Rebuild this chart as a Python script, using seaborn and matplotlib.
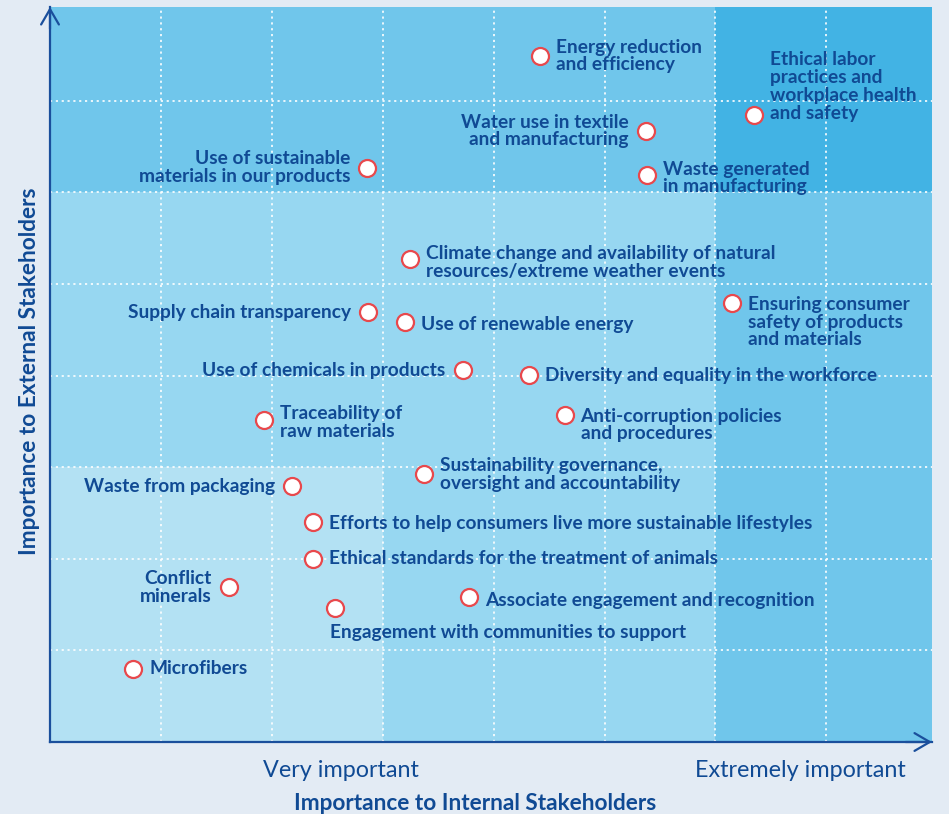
import numpy as np
import pandas as pd
import matplotlib
matplotlib.use("Agg")
import matplotlib.pyplot as plt
from matplotlib.colors import ListedColormap
from matplotlib.ticker import FixedLocator
import seaborn as sns

# ---------------- data ----------------
topics = [
    "Energy reduction\nand efficiency",
    "Ethical labor\npractices and\nworkplace health\nand safety",
    "Water use in textile\nand manufacturing",
    "Use of sustainable\nmaterials in our products",
    "Waste generated\nin manufacturing",
    "Climate change and availability of natural\nresources/extreme weather events",
    "Ensuring consumer\nsafety of products\nand materials",
    "Supply chain transparency",
    "Use of renewable energy",
    "Use of chemicals in products",
    "Diversity and equality in the workforce",
    "Anti-corruption policies\nand procedures",
    "Traceability of\nraw materials",
    "Sustainability governance,\noversight and accountability",
    "Waste from packaging",
    "Efforts to help consumers live more sustainable lifestyles",
    "Ethical standards for the treatment of animals",
    "Conflict\nminerals",
    "Associate engagement and recognition",
    "Engagement with communities to support",
    "Microfibers",
]
internal = [4.42, 6.35, 5.37, 2.86, 5.38, 3.25, 6.15, 2.87, 3.20, 3.72, 4.32,
            4.64, 1.93, 3.37, 2.18, 2.37, 2.37, 1.61, 3.78, 2.57, 0.75]
external = [7.49, 6.85, 6.67, 6.27, 6.19, 5.27, 4.79, 4.69, 4.59, 4.06, 4.01,
            3.57, 3.52, 2.93, 2.79, 2.40, 2.00, 1.69, 1.58, 1.46, 0.80]

x_tick_labels = ["Very important", "Extremely important"]
x_tick_pos = [2.62, 6.77]
x_title = "Importance to Internal Stakeholders"
y_title = "Importance to External Stakeholders"

# zone boundaries and levels (rows bottom->top, cols left->right)
x_breaks = [0, 3, 6, 7.953]
y_breaks = [0, 3, 6, 8.024]
zone_levels = [[0, 1, 2],
               [1, 1, 2],
               [2, 2, 3]]

# label layout: side ('r' right, 'l' left, 'b' below) and vertical offset (px, +down)
label_side = ["r", "r", "l", "l", "r", "r", "r", "l", "r", "l", "r",
              "r", "r", "r", "l", "r", "r", "l", "r", "b", "r"]
label_dy = [0, -28, 0, 0, 3, 3, 19, 0, 3, 0, 1,
            10, 3, 1, 0, 1, 0, 0, 3, 24, 0]

# ---------------- style ----------------
sns.set_theme(style="white")
plt.rcParams["font.family"] = ["Lato", "DejaVu Sans"]

bg = "#e3ebf4"
navy = "#104a94"
axis_col = "#1a4f9c"
zone_cols = ["#b3e1f3", "#97d7f1", "#70c6eb", "#42b3e4"]

fig = plt.figure(figsize=(9.49, 8.14), dpi=100, facecolor=bg)
ax = fig.add_axes([50 / 949, 72 / 814, 882 / 949, 735 / 814])
ax.set_facecolor(bg)

ax.pcolormesh(x_breaks, y_breaks, np.array(zone_levels), cmap=ListedColormap(zone_cols),
              vmin=-0.5, vmax=3.5, shading="flat", zorder=0)

ax.set_xlim(x_breaks[0], x_breaks[-1])
ax.set_ylim(y_breaks[0], y_breaks[-1])

ax.xaxis.set_minor_locator(FixedLocator(range(1, 8)))
ax.yaxis.set_minor_locator(FixedLocator(range(1, 8)))
ax.grid(which="minor", color="white", linestyle=(0, (1.3, 2.2)), linewidth=1.2, zorder=1)
ax.grid(which="major", visible=False)
ax.set_axisbelow(False)

ax.set_xticks(x_tick_pos)
ax.set_xticklabels(x_tick_labels, fontsize=16.8, color=navy)
ax.set_yticks([])
ax.tick_params(which="both", length=0)
ax.tick_params(axis="x", pad=13)

for s in ["top", "right"]:
    ax.spines[s].set_visible(False)
for s in ["left", "bottom"]:
    ax.spines[s].set_color(axis_col)
    ax.spines[s].set_linewidth(1.6)
    ax.spines[s].set_zorder(5)

arrow_kw = dict(arrowstyle="->,head_length=0.55,head_width=0.32", lw=1.6, color=axis_col,
                mutation_scale=20, shrinkA=0, shrinkB=0)
ax.annotate("", xy=(0, 1.0), xytext=(0, 0.97), xycoords="axes fraction",
            arrowprops=arrow_kw, annotation_clip=False, zorder=6)
ax.annotate("", xy=(1.0, 0), xytext=(0.97, 0), xycoords="axes fraction",
            arrowprops=arrow_kw, annotation_clip=False, zorder=6)

df = pd.DataFrame({"topic": topics, "internal": internal, "external": external})
sns.scatterplot(data=df, x="internal", y="external", ax=ax, s=150, color="white",
                edgecolor="#e8484c", linewidth=1.6, zorder=4, legend=False)
ax.set_xlabel("")
ax.set_ylabel("")
fig.text(475 / 949, 1 - 803 / 814, x_title, fontsize=16.3, fontweight="bold", color=navy,
         ha="center", va="center")
fig.text(30 / 949, 1 - 371 / 814, y_title, fontsize=16.3, fontweight="bold", color=navy,
         ha="center", va="center", rotation=90)

px2pt = 72 / 100
for t, x, y, side, dy in zip(topics, internal, external, label_side, label_dy):
    if side == "r":
        off, ha, ma, va = (16 * px2pt, -dy * px2pt), "left", "left", "center"
    elif side == "l":
        off, ha, ma, va = (-17 * px2pt, -dy * px2pt), "right", "right", "center"
    else:
        off, ha, ma, va = (-5 * px2pt, -dy * px2pt), "left", "left", "center"
    ax.annotate(t, (x, y), xytext=off, textcoords="offset points", ha=ha, va=va,
                multialignment=ma, fontsize=13.8, fontweight="bold", color=navy,
                linespacing=1.05, zorder=7)

fig.savefig("out.png", dpi=100, facecolor=bg)
